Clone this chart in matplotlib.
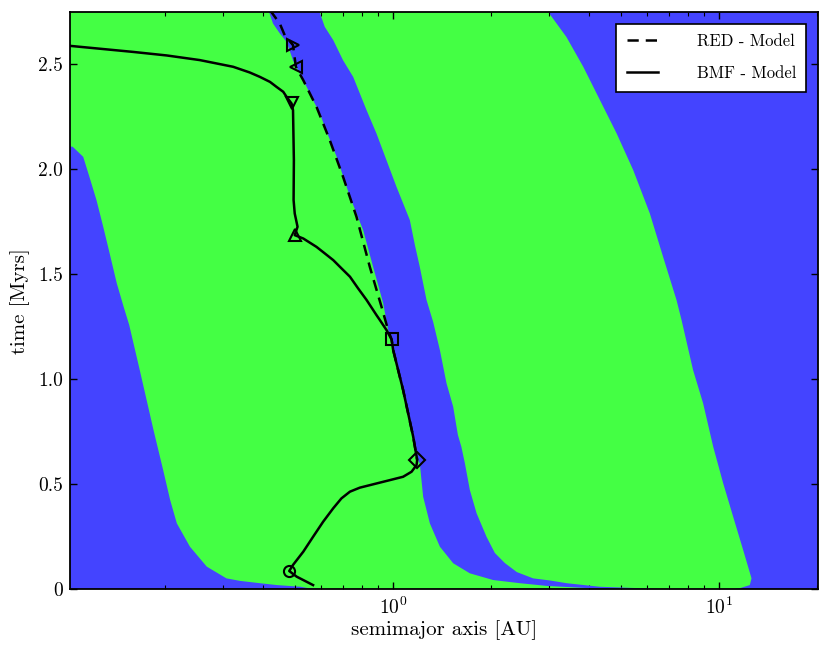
import matplotlib
matplotlib.use('Agg')
import matplotlib.pyplot as plt
from matplotlib.ticker import FuncFormatter, NullFormatter
from matplotlib.lines import Line2D

plt.rcParams['font.family'] = 'cmr10'
plt.rcParams['mathtext.fontset'] = 'cm'
plt.rcParams['axes.formatter.use_mathtext'] = True

### region boundaries (semimajor axis [AU], time [Myrs])
# left edge of the inner green band
L1_t = [2.80, 2.12, 2.108, 2.06, 1.965, 1.854, 1.727, 1.600, 1.457, 1.346, 1.259, 1.044,
        0.759, 0.568, 0.425, 0.314, 0.203, 0.108, 0.052, 0.040, 0.029, 0.020, 0.012, 0.005, 0.0]
L1_a = [0.09, 0.09, 0.104, 0.112, 0.117, 0.123, 0.129, 0.135, 0.142, 0.149, 0.155, 0.167,
        0.184, 0.197, 0.207, 0.217, 0.238, 0.268, 0.308, 0.339, 0.39, 0.44, 0.52, 0.55, 0.63]
# right edge of the outer green band
R2_t = [2.81, 2.75, 2.631, 2.489, 2.330, 2.171, 1.997, 1.790, 1.584, 1.378, 1.282, 1.044,
        0.886, 0.679, 0.505, 0.346, 0.187, 0.052, 0.020, 0.005, 0.0]
R2_a = [2.94, 2.99, 3.40, 3.83, 4.31, 4.85, 5.45, 6.13, 6.73, 7.40, 7.67, 8.32,
        8.93, 9.59, 10.29, 11.04, 11.85, 12.57, 12.42, 11.57, 11.0]
# blue band in between: left and right edges
R1_t = [2.76, 2.695, 2.648, 2.608, 2.520, 2.457, 2.393, 2.330, 2.267, 2.203, 2.060, 1.870,
        1.711, 1.536, 1.363, 1.235, 1.190, 1.140, 0.949, 0.727, 0.616, 0.600, 0.441, 0.314,
        0.203, 0.124, 0.076, 0.044, 0.029, 0.016, 0.005, 0.002]
R1_a = [0.414, 0.428, 0.449, 0.471, 0.493, 0.517, 0.543, 0.568, 0.596, 0.617, 0.671, 0.737,
        0.809, 0.868, 0.932, 0.965, 0.989, 1.0, 1.073, 1.152, 1.191, 1.207, 1.236, 1.296,
        1.391, 1.528, 1.719, 2.027, 2.447, 2.962, 4.012, 4.72]
L2_t = [2.768, 2.679, 2.616, 2.520, 2.441, 2.282, 2.171, 2.044, 1.917, 1.759, 1.640, 1.536,
        1.378, 1.273, 1.140, 0.981, 0.870, 0.735, 0.679, 0.600, 0.473, 0.362, 0.250, 0.173,
        0.125, 0.082, 0.052, 0.042, 0.029, 0.012, 0.004, 0.002]
L2_a = [0.589, 0.617, 0.655, 0.702, 0.754, 0.829, 0.889, 0.954, 1.024, 1.125, 1.166, 1.207,
        1.266, 1.327, 1.391, 1.458, 1.528, 1.580, 1.619, 1.660, 1.719, 1.803, 1.934, 2.051,
        2.201, 2.395, 2.688, 3.025, 3.404, 4.306, 6.0, 6.5]

### planet tracks
bmf_t = [2.59, 2.560, 2.543, 2.521, 2.505, 2.489, 2.462, 2.441, 2.417, 2.393, 2.370, 2.346,
         2.314, 2.282, 2.044, 1.854, 1.790, 1.727, 1.687, 1.671, 1.631, 1.600, 1.568, 1.529,
         1.489, 1.433, 1.378, 1.306, 1.283, 1.235, 1.190, 1.140, 0.949, 0.727, 0.616, 0.592,
         0.560, 0.536, 0.520, 0.500, 0.484, 0.465, 0.433, 0.386, 0.322, 0.250, 0.179, 0.116,
         0.087, 0.060, 0.020]
bmf_a = [0.10, 0.159, 0.202, 0.255, 0.287, 0.323, 0.363, 0.390, 0.419, 0.439, 0.460, 0.471,
         0.488, 0.493, 0.496, 0.495, 0.499, 0.509, 0.499, 0.530, 0.582, 0.617, 0.655, 0.694,
         0.737, 0.781, 0.829, 0.889, 0.910, 0.954, 0.989, 1.0, 1.073, 1.152, 1.185, 1.180,
         1.139, 1.073, 0.977, 0.868, 0.790, 0.737, 0.694, 0.655, 0.610, 0.568, 0.530, 0.493,
         0.480, 0.506, 0.568]
red_t = [2.76, 2.695, 2.639, 2.592, 2.489, 2.425, 2.298, 2.140, 1.965, 1.774, 1.536, 1.346,
         1.235, 1.190, 1.140, 0.949, 0.727, 0.616]
red_a = [0.4185, 0.449, 0.465, 0.493, 0.503, 0.530, 0.582, 0.639, 0.702, 0.772, 0.848, 0.921,
         0.965, 0.989, 1.0, 1.073, 1.152, 1.185]

mark_shape = ['>', '<', 'v', '^', 's', 'D', 'o']
mark_a = [0.493, 0.503, 0.488, 0.499, 0.989, 1.185, 0.480]
mark_t = [2.592, 2.489, 2.318, 1.687, 1.190, 0.616, 0.087]

blue = '#4444ff'
green = '#44ff44'

fig = plt.figure(figsize=(8.3, 6.52), dpi=100)
ax = fig.add_axes([0.0843, 0.0962, 0.9012, 0.8854])
ax.set_facecolor(blue)

ax.fill(L1_a + R2_a[::-1], L1_t + R2_t[::-1], color=green, lw=0, zorder=1)
ax.fill(R1_a + L2_a[::-1], R1_t + L2_t[::-1], color=blue, lw=0, zorder=2)

ax.plot(red_a, red_t, color='k', lw=1.8, ls=(0, (4.5, 2.8)), zorder=3)
ax.plot(bmf_a, bmf_t, color='k', lw=1.8, zorder=3)
for m, a, t in zip(mark_shape, mark_a, mark_t):
    ax.plot(a, t, marker=m, ms=8, mfc='none', mec='k', mew=1.5, zorder=4)

ax.set_xscale('log')
ax.set_xlim(0.102, 20.1)
ax.set_ylim(0, 2.75)
ax.set_yticks([0, 0.5, 1.0, 1.5, 2.0, 2.5])
ax.yaxis.set_major_formatter(FuncFormatter(lambda v, p: '0' if v == 0 else '%.1f' % v))
ax.xaxis.set_minor_formatter(NullFormatter())
ax.tick_params(which='both', direction='in', top=True, right=True, labelsize=14)
ax.tick_params(which='major', length=5, width=1)
ax.tick_params(which='minor', length=2.8, width=0.8)
ax.tick_params(axis='x', pad=5)
ax.tick_params(axis='y', pad=5)
for s in ax.spines.values():
    s.set_linewidth(1.3)

ax.set_xlabel('semimajor axis [AU]', fontsize=15, labelpad=2)
ax.set_ylabel('time [Myrs]', fontsize=15, labelpad=6)

handles = [Line2D([], [], color='k', lw=1.8, ls=(0, (4.5, 2.8))),
           Line2D([], [], color='k', lw=1.8)]
leg = ax.legend(handles, ['RED - Model', 'BMF - Model'], loc='upper right', fontsize=12,
                fancybox=False, framealpha=1, edgecolor='k', handlelength=1.9,
                handletextpad=2.3, labelspacing=1.0, borderaxespad=0.7, borderpad=0.62)
leg.get_frame().set_linewidth(1.2)

fig.savefig('out.png', dpi=100)
